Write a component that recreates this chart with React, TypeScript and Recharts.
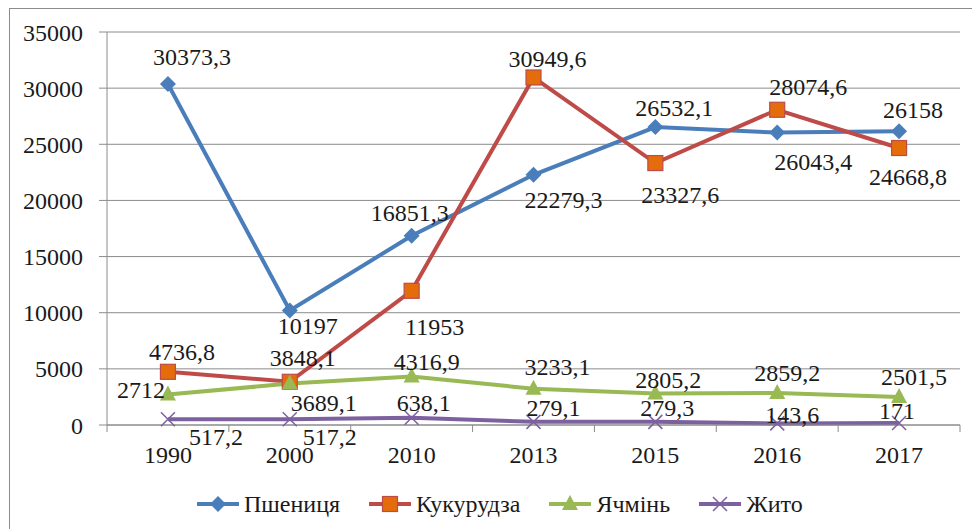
import React from 'react'
import { LineChart, Line, XAxis, YAxis, CartesianGrid, LabelList } from 'recharts'

const years = ['1990', '2000', '2010', '2013', '2015', '2016', '2017']
const wheat = [30373.3, 10197, 16851.3, 22279.3, 26532.1, 26043.4, 26158]
const corn = [4736.8, 3848.1, 11953, 30949.6, 23327.6, 28074.6, 24668.8]
const barley = [2712, 3689.1, 4316.9, 3233.1, 2805.2, 2859.2, 2501.5]
const rye = [517.2, 517.2, 638.1, 279.1, 279.3, 143.6, 171]
const yTicks = [0, 5000, 10000, 15000, 20000, 25000, 30000, 35000]

// label placement (offset of the label centre from the point), as in the picture
const wheatLabelPos = [[24, -27], [18, 15], [-2, -23], [30, 25], [19, -19], [36, 29], [14, -21]]
const cornLabelPos = [[14, -20], [13, -24], [23, 36], [14, -18], [25, 32], [31, -23], [9, 29]]
const barleyLabelPos = [[-27, -5], [34, 19], [15, -15], [24, -22], [13, -14], [10, -20], [15, -20]]
const ryeLabelPos = [[48, 18], [40, 18], [12, -15], [20, -14], [12, -14], [15, -8], [-2, -12]]

const data = years.map((year, i) => ({
  year,
  wheat: wheat[i],
  corn: corn[i],
  barley: barley[i],
  rye: rye[i],
}))

const COLORS = {
  wheat: '#4A7EBB',
  corn: '#BE4B48',
  cornFill: '#E46C0A',
  barley: '#98B954',
  rye: '#7D60A0',
  grid: '#8C8C8C',
}

const FONT = 'Liberation Serif, Tinos, DejaVu Serif, serif'
const PLOT_LEFT = 107
const PLOT_RIGHT = 960
const BAND = (PLOT_RIGHT - PLOT_LEFT) / years.length

const fmt = (v: number) => String(v).replace('.', ',')

function Marker({ kind, cx, cy }: { kind: string; cx: number; cy: number }) {
  if (kind === 'wheat') {
    return <path d={`M${cx},${cy - 8} L${cx + 8},${cy} L${cx},${cy + 8} L${cx - 8},${cy} Z`} fill={COLORS.wheat} />
  }
  if (kind === 'corn') {
    return <rect x={cx - 7.5} y={cy - 7.5} width={15} height={15} fill={COLORS.cornFill} stroke={COLORS.corn} strokeWidth={1.2} />
  }
  if (kind === 'barley') {
    return <path d={`M${cx},${cy - 9} L${cx + 8},${cy + 6} L${cx - 8},${cy + 6} Z`} fill={COLORS.barley} />
  }
  return (
    <path
      d={`M${cx - 7},${cy - 7} L${cx + 7},${cy + 7} M${cx + 7},${cy - 7} L${cx - 7},${cy + 7}`}
      stroke={COLORS.rye}
      strokeWidth={1.5}
      fill="none"
    />
  )
}

const makeDot = (kind: string) => (props: any) => (
  <Marker key={`${kind}-${props.index}`} kind={kind} cx={props.cx} cy={props.cy} />
)

const makeLabel = (pos: number[][]) => (props: any) => {
  const { x, y, index, value } = props
  const [dx, dy] = pos[index] || [0, -20]
  return (
    <text x={x + dx} y={y + dy + 8} textAnchor="middle" fontSize={24} fontFamily={FONT} fill="#1a1a1a">
      {fmt(value)}
    </text>
  )
}

function XTick(props: any) {
  const { x, y, payload, index } = props
  const axisY = y - 7
  return (
    <g>
      <line x1={x - BAND / 2} y1={axisY} x2={x - BAND / 2} y2={axisY + 7} stroke={COLORS.grid} />
      {index === years.length - 1 && (
        <line x1={x + BAND / 2} y1={axisY} x2={x + BAND / 2} y2={axisY + 7} stroke={COLORS.grid} />
      )}
      <text x={x} y={axisY + 38} textAnchor="middle" fontSize={24} fontFamily={FONT} fill="#1a1a1a">
        {payload.value}
      </text>
    </g>
  )
}

const legendItems = [
  { kind: 'wheat', name: 'Пшениця', color: COLORS.wheat },
  { kind: 'corn', name: 'Кукурудза', color: COLORS.corn },
  { kind: 'barley', name: 'Ячмінь', color: COLORS.barley },
  { kind: 'rye', name: 'Жито', color: COLORS.rye },
]

function ChartLegend() {
  return (
    <div
      style={{
        position: 'absolute',
        left: 196,
        top: 490,
        display: 'flex',
        alignItems: 'center',
        fontFamily: FONT,
        fontSize: 24,
        lineHeight: '28px',
        color: '#1a1a1a',
      }}
    >
      {legendItems.map((item) => (
        <div key={item.kind} style={{ display: 'flex', alignItems: 'center', marginRight: 28 }}>
          <svg width={44} height={20} style={{ marginRight: 4 }}>
            <line x1={1} y1={10} x2={43} y2={10} stroke={item.color} strokeWidth={4} />
            <Marker kind={item.kind} cx={22} cy={10} />
          </svg>
          <span style={{ fontFamily: FONT }}>{item.name}</span>
        </div>
      ))}
    </div>
  )
}

export default function App() {
  return (
    <div style={{ position: 'fixed', left: 0, top: 0, width: 972, height: 529, overflow: 'hidden', background: '#fff' }}>
      <div
        style={{
          position: 'absolute',
          left: 9,
          top: 8,
          width: 1000,
          height: 600,
          border: '1px solid #8C8C8C',
        }}
      />
      <div style={{ position: 'absolute', left: 0, top: 0 }}>
        <LineChart width={972} height={529} data={data} margin={{ top: 32, right: 12, bottom: 54, left: 7 }}>
          <CartesianGrid vertical={false} stroke={COLORS.grid} strokeWidth={1} />
          <XAxis
            dataKey="year"
            height={50}
            tickSize={7}
            tickMargin={0}
            tickLine={false}
            padding={{ left: BAND / 2, right: BAND / 2 }}
            axisLine={{ stroke: COLORS.grid }}
            tick={<XTick />}
            interval={0}
          />
          <YAxis
            width={100}
            domain={[0, 35000]}
            ticks={yTicks}
            tickSize={8}
            tickMargin={16}
            axisLine={{ stroke: COLORS.grid }}
            tickLine={{ stroke: COLORS.grid }}
            tick={{ fontSize: 24, fontFamily: FONT, fill: '#1a1a1a' }}
          />
          <Line
            dataKey="wheat"
            name="Пшениця"
            stroke={COLORS.wheat}
            strokeWidth={4}
            dot={makeDot('wheat')}
            isAnimationActive={false}
          >
            <LabelList dataKey="wheat" content={makeLabel(wheatLabelPos)} />
          </Line>
          <Line
            dataKey="corn"
            name="Кукурудза"
            stroke={COLORS.corn}
            strokeWidth={4}
            dot={makeDot('corn')}
            isAnimationActive={false}
          >
            <LabelList dataKey="corn" content={makeLabel(cornLabelPos)} />
          </Line>
          <Line
            dataKey="barley"
            name="Ячмінь"
            stroke={COLORS.barley}
            strokeWidth={4}
            dot={makeDot('barley')}
            isAnimationActive={false}
          >
            <LabelList dataKey="barley" content={makeLabel(barleyLabelPos)} />
          </Line>
          <Line
            dataKey="rye"
            name="Жито"
            stroke={COLORS.rye}
            strokeWidth={4}
            dot={makeDot('rye')}
            isAnimationActive={false}
          >
            <LabelList dataKey="rye" content={makeLabel(ryeLabelPos)} />
          </Line>
        </LineChart>
      </div>
      <ChartLegend />
    </div>
  )
}
